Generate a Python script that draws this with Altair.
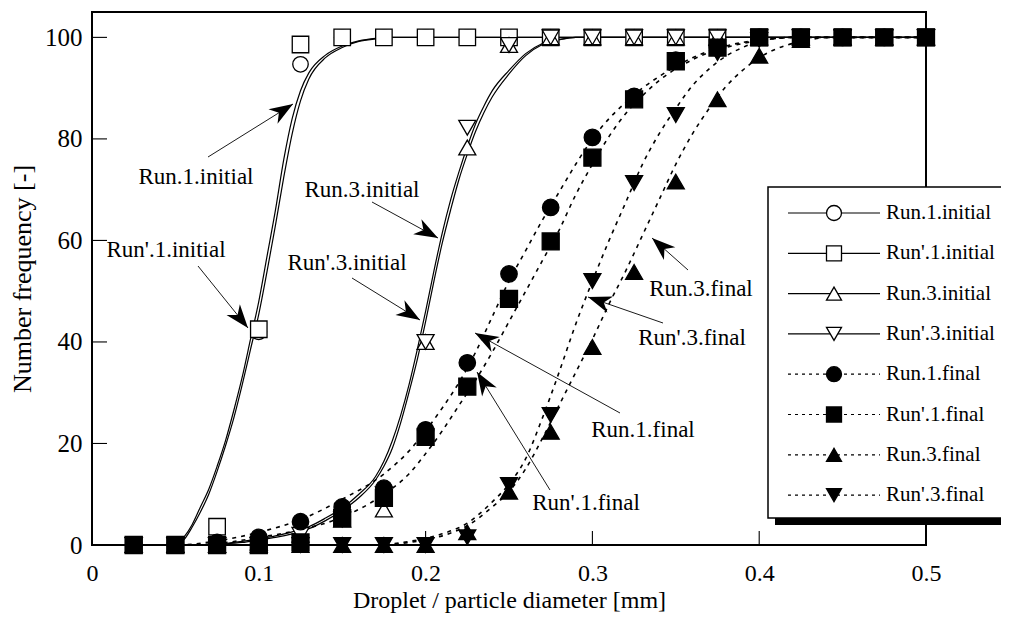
import math
import altair as alt
import pandas as pd

# ---------------- data ----------------
X_MARK = [0.025, 0.05, 0.075, 0.1, 0.125, 0.15, 0.175, 0.2, 0.225, 0.25,
          0.275, 0.3, 0.325, 0.35, 0.375, 0.4, 0.425, 0.45, 0.475, 0.5]

RUN1_INIT = [0, 0, 0.5, 42, 94.7, 100, 100, 100, 100, 100, 100, 100, 100, 100, 100, 100, 100, 100, 100, 100]
RUN1P_INIT = [0, 0, 3.6, 42.5, 98.6, 100, 100, 100, 100, 100, 100, 100, 100, 100, 100, 100, 100, 100, 100, 100]
RUN3_INIT = [0, 0, 0, 0.5, 2, 5, 7, 40, 78.3, 98.5, 100, 100, 100, 100, 100, 100, 100, 100, 100, 100]
RUN3P_INIT = [0, 0, 0, 0, 2, 5, 10, 40, 82.2, 98.5, 100, 100, 100, 100, 100, 100, 100, 100, 100, 100]
RUN1_FINAL = [0, 0, 0.5, 1.5, 4.6, 7.5, 11.2, 22.7, 35.9, 53.4, 66.5, 80.3, 88.4, 95.5, 98, 100, 100, 100, 100, 100]
RUN1P_FINAL = [0, 0, 0, 0, 0.5, 5.3, 9.3, 21.3, 31.2, 48.5, 59.8, 76.3, 87.8, 95.3, 98, 100, 100, 100, 100, 100]
RUN3_FINAL = [0, 0, 0, 0, 0, 0, 0, 0, 2.5, 10.5, 22.3, 39, 53.8, 71.6, 87.8, 96.4, 99.5, 100, 100, 100]
RUN3P_FINAL = [0, 0, 0, 0, 0, 0, 0, 0, 1.5, 11.8, 25.6, 52, 71.3, 84.7, 96.9, 99.5, 100, 100, 100, 100]

SERIES = ["Run.1.initial", "Run'.1.initial", "Run.3.initial", "Run'.3.initial",
          "Run.1.final", "Run'.1.final", "Run.3.final", "Run'.3.final"]

# fitted curves
CI1_X = [0.025, 0.05, 0.055, 0.06, 0.065, 0.07, 0.075, 0.08, 0.085, 0.09, 0.095, 0.1,
         0.105, 0.11, 0.115, 0.12, 0.125, 0.13, 0.14, 0.15, 0.16, 0.17, 0.18, 0.5]
CI1_RUN1 = [0, 0, 1.5, 4, 7.5, 11, 15.5, 20.5, 26.5, 33, 40.5, 48,
            57, 66, 76, 84, 89.5, 93, 96.5, 98.3, 99.3, 99.8, 100, 100]
CI1_RUN1P = [0, 0, 1, 3.5, 6.5, 10, 14.5, 19.5, 25, 31.5, 38.5, 45.5,
             54, 63, 72.5, 81, 87.5, 91.8, 96, 98, 99.2, 99.7, 100, 100]

CI3_X = [0.025, 0.07, 0.08, 0.09, 0.1, 0.11, 0.12, 0.13, 0.14, 0.15, 0.16, 0.17, 0.175,
         0.18, 0.185, 0.19, 0.195, 0.2, 0.205, 0.21, 0.215, 0.22, 0.225, 0.23, 0.235,
         0.24, 0.25, 0.26, 0.27, 0.28, 0.29, 0.5]
CI3_RUN3 = [0, 0, 0.3, 0.7, 1.2, 1.8, 2.6, 3.6, 5.3, 7.3, 10, 13.5, 16.5,
            20.5, 25.5, 31.5, 38.5, 46, 54, 61.5, 68, 73.5, 78.5, 83, 86.5,
            89.5, 93.5, 96.8, 98.8, 99.6, 100, 100]
CI3_RUN3P = [0, 0, 0.2, 0.5, 1, 1.5, 2.2, 3.2, 4.8, 6.8, 9.3, 12.8, 15.5,
             19, 24, 30, 36.5, 44, 52, 59.5, 66, 72, 77, 81.5, 85.2,
             88.3, 92.8, 96.4, 98.6, 99.5, 100, 100]

CF1_X = [0.025, 0.05, 0.075, 0.1, 0.125, 0.15, 0.175, 0.19, 0.2, 0.21, 0.22, 0.23, 0.24,
         0.25, 0.26, 0.27, 0.28, 0.29, 0.3, 0.31, 0.32, 0.33, 0.34, 0.35, 0.36, 0.37,
         0.38, 0.39, 0.4, 0.41, 0.42, 0.5]
CF1_RUN1 = [0, 0, 0.8, 2.5, 5, 9, 14, 18.5, 22.5, 27, 32, 38, 45,
            52, 58, 64, 69.5, 75, 80, 84, 87.2, 90, 92.3, 94.3, 96, 97.3,
            98.3, 99, 99.5, 99.8, 100, 100]
CF1_RUN1P = [0, 0, 0.3, 1.5, 3, 5.5, 10, 14, 18, 22.5, 27.5, 32.5, 38,
             44, 50, 56, 62, 69, 75, 80.5, 85, 88.5, 91.5, 93.8, 95.6, 97,
             98, 98.8, 99.4, 99.8, 100, 100]

CF3_X = [0.025, 0.17, 0.19, 0.21, 0.225, 0.24, 0.25, 0.26, 0.27, 0.28, 0.29, 0.3, 0.31,
         0.32, 0.33, 0.34, 0.35, 0.36, 0.37, 0.38, 0.39, 0.4, 0.41, 0.42, 0.43, 0.44, 0.5]
CF3_RUN3 = [0, 0, 0.5, 1.8, 3.8, 7.5, 10.5, 15, 21, 27.5, 34, 40.5, 47.5,
            54, 61, 68, 75, 81, 86, 90.3, 93.5, 96, 97.7, 98.8, 99.5, 100, 100]
CF3_RUN3P = [0, 0, 0.7, 2.2, 4.3, 8.5, 12, 17, 25, 34, 43.5, 52, 60,
             67.5, 75, 81, 86, 90.5, 93.8, 96.3, 98, 99.2, 99.8, 100, 100, 100, 100]

X_TICKS = [0, 0.1, 0.2, 0.3, 0.4, 0.5]
Y_TICKS = [0, 20, 40, 60, 80, 100]

# annotation label, label centre, arrow start, arrow tip  (page pixels)
ANNOTATIONS = [
    ("Run.1.initial", (196, 177), (208, 157), (293, 104)),
    ("Run'.1.initial", (166, 250), (198, 266), (248, 328)),
    ("Run.3.initial", (362, 190), (372, 202), (438, 238)),
    ("Run'.3.initial", (347, 263), (352, 278), (420, 320)),
    ("Run.1.final", (643, 430), (620, 413), (475, 333)),
    ("Run'.1.final", (586, 503), (550, 490), (477, 372)),
    ("Run'.3.final", (692, 338), (663, 323), (588, 297)),
    ("Run.3.final", (701, 289), (688, 270), (652, 238)),
]

# ---------------- layout ----------------
FONT = "Liberation Serif"
W, H = 834, 533
LEFT, TOP = 92, 12
XMAX, YMAX = 0.5, 105.0


def to_x(px):
    return (px - LEFT) / W * XMAX


def to_y(py):
    return (TOP + H - py) / H * YMAX


xs = alt.Scale(domain=[0, XMAX], nice=False, zero=False)
ys = alt.Scale(domain=[0, YMAX], nice=False, zero=False)

xaxis = alt.Axis(values=X_TICKS, labelExpr="datum.value == 0 ? '0' : format(datum.value, '.1f')",
                 ticks=False, tickSize=0, domain=False, grid=False, labelFlush=False,
                 labelOverlap=False, labelFont=FONT, labelFontSize=24, labelColor="black",
                 labelBaseline="alphabetic", labelPadding=35,
                 title="Droplet / particle diameter [mm]", titleFont=FONT, titleFontSize=24,
                 titleFontWeight="normal", titleColor="black", titleBaseline="alphabetic",
                 titleY=62)
yaxis = alt.Axis(values=Y_TICKS, ticks=False, tickSize=0, domain=False, grid=False,
                 labelFlush=False, labelOverlap=False, labelFont=FONT, labelFontSize=25,
                 labelColor="black", labelBaseline="middle", labelPadding=10,
                 title="Number frequency [-]", titleFont=FONT, titleFontSize=26,
                 titleFontWeight="normal", titleColor="black", titleBaseline="alphabetic",
                 titleAngle=270, titleX=-62, titleY=H / 2)

X = alt.X("x:Q", scale=xs, axis=xaxis)
Y = alt.Y("y:Q", scale=ys, axis=yaxis)
X2 = alt.X2("x2:Q")
Y2 = alt.Y2("y2:Q")

layers = []

# frame
frame_df = pd.DataFrame({"x": [0.0], "y": [0.0], "x2": [XMAX], "y2": [YMAX]})
layers.append(alt.Chart(frame_df).mark_rect(fillOpacity=0, stroke="black", strokeWidth=2)
              .encode(x=X, y=Y, x2=X2, y2=Y2))

# inward ticks
layers.append(alt.Chart(pd.DataFrame({"x": X_TICKS})).mark_rule(color="black", strokeWidth=1.1)
              .encode(x=X, y=alt.value(H), y2=alt.value(H - 14)))
layers.append(alt.Chart(pd.DataFrame({"y": Y_TICKS})).mark_rule(color="black", strokeWidth=1.1)
              .encode(y=Y, x=alt.value(0), x2=alt.value(15)))

# curves
curves = [
    (CI1_X, CI1_RUN1, False), (CI1_X, CI1_RUN1P, False),
    (CI3_X, CI3_RUN3, False), (CI3_X, CI3_RUN3P, False),
    (CF1_X, CF1_RUN1, True), (CF1_X, CF1_RUN1P, True),
    (CF3_X, CF3_RUN3, True), (CF3_X, CF3_RUN3P, True),
]
for cx, cy, dashed in curves:
    kw = dict(interpolate="monotone", color="black")
    if dashed:
        kw.update(strokeDash=[4, 5], strokeWidth=1.6)
    else:
        kw.update(strokeWidth=1.2)
    layers.append(alt.Chart(pd.DataFrame({"x": cx, "y": cy})).mark_line(**kw).encode(x=X, y=Y))

# markers
STYLE = {
    "Run.1.initial": ("circle", "white", 240),
    "Run'.1.initial": ("square", "white", 272),
    "Run.3.initial": ("triangle-up", "white", 289),
    "Run'.3.initial": ("triangle-down", "white", 289),
    "Run.1.final": ("circle", "black", 270),
    "Run'.1.final": ("square", "black", 289),
    "Run.3.final": ("triangle-up", "black", 289),
    "Run'.3.final": ("triangle-down", "black", 289),
}
VALUES = {
    "Run.1.initial": RUN1_INIT, "Run'.1.initial": RUN1P_INIT,
    "Run.3.initial": RUN3_INIT, "Run'.3.initial": RUN3P_INIT,
    "Run.1.final": RUN1_FINAL, "Run'.1.final": RUN1P_FINAL,
    "Run.3.final": RUN3_FINAL, "Run'.3.final": RUN3P_FINAL,
}
draw_order = ["Run.1.initial", "Run'.1.initial", "Run.3.initial", "Run'.3.initial",
              "Run.1.final", "Run'.1.final", "Run.3.final", "Run'.3.final"]
for name in draw_order:
    shp, fc, sz = STYLE[name]
    df = pd.DataFrame({"x": X_MARK, "y": VALUES[name]})
    layers.append(alt.Chart(df).mark_point(shape=shp, filled=True, fill=fc, stroke="black",
                                           strokeWidth=1.3, size=sz, opacity=1)
                  .encode(x=X, y=Y))

# annotations
ARROW = "M0,0L-2.2,-0.8L-1.55,0L-2.2,0.8Z"
rule_rows, head_rows, text_rows = [], [], []
for label, (tx, ty), (sx, sy), (ex, ey) in ANNOTATIONS:
    rule_rows.append({"x": to_x(sx), "y": to_y(sy), "x2": to_x(ex), "y2": to_y(ey)})
    ang = math.degrees(math.atan2(ey - sy, ex - sx)) % 360
    head_rows.append({"x": to_x(ex), "y": to_y(ey), "ang": ang})
    text_rows.append({"x": to_x(tx), "y": to_y(ty), "label": label})
layers.append(alt.Chart(pd.DataFrame(rule_rows)).mark_rule(color="black", strokeWidth=0.9)
              .encode(x=X, y=Y, x2=X2, y2=Y2))
layers.append(alt.Chart(pd.DataFrame(head_rows)).mark_point(shape=ARROW, filled=True, fill="black",
                                                           strokeWidth=0, size=460, opacity=1)
              .encode(x=X, y=Y, angle=alt.Angle("ang:Q", scale=None)))
layers.append(alt.Chart(pd.DataFrame(text_rows)).mark_text(font=FONT, fontSize=23, color="black",
                                                          align="center", baseline="middle")
              .encode(x=X, y=Y, text="label:N"))

# legend (drawn by hand)
BOX_L, BOX_T, BOX_B, BOX_R = 768, 187, 518, 1060
SH = 7
box_df = pd.DataFrame({"x": [to_x(BOX_L + SH)], "x2": [to_x(BOX_R + SH)],
                       "y": [to_y(BOX_T + SH)], "y2": [to_y(BOX_B + SH)]})
layers.append(alt.Chart(box_df).mark_rect(fill="black").encode(x=X, y=Y, x2=X2, y2=Y2))
box_df2 = pd.DataFrame({"x": [to_x(BOX_L)], "x2": [to_x(BOX_R)],
                        "y": [to_y(BOX_T)], "y2": [to_y(BOX_B)]})
layers.append(alt.Chart(box_df2).mark_rect(fill="white", stroke="black", strokeWidth=1.5)
              .encode(x=X, y=Y, x2=X2, y2=Y2))

ROW0, ROWSTEP = 213, 40.3
solid_rows, dash_rows, mk_rows, lab_rows = [], [], [], []
for i, name in enumerate(SERIES):
    py = ROW0 + i * ROWSTEP
    row = {"x": to_x(788), "x2": to_x(880), "y": to_y(py), "y2": to_y(py)}
    (dash_rows if "final" in name else solid_rows).append(row)
    shp, fc, _ = STYLE[name]
    mk_rows.append({"x": to_x(834), "y": to_y(py), "shp": shp, "fc": fc})
    lab_rows.append({"x": to_x(886), "y": to_y(py), "label": name})
layers.append(alt.Chart(pd.DataFrame(solid_rows)).mark_rule(color="black", strokeWidth=1.2)
              .encode(x=X, y=Y, x2=X2, y2=Y2))
layers.append(alt.Chart(pd.DataFrame(dash_rows)).mark_rule(color="black", strokeWidth=1.2,
                                                          strokeDash=[3, 4])
              .encode(x=X, y=Y, x2=X2, y2=Y2))
layers.append(alt.Chart(pd.DataFrame(mk_rows)).mark_point(filled=True, stroke="black",
                                                         strokeWidth=1.3, size=225, opacity=1)
              .encode(x=X, y=Y, shape=alt.Shape("shp:N", scale=None),
                      fill=alt.Fill("fc:N", scale=None)))
layers.append(alt.Chart(pd.DataFrame(lab_rows)).mark_text(font=FONT, fontSize=21, color="black",
                                                         align="left", baseline="middle")
              .encode(x=X, y=Y, text="label:N"))

chart = (alt.layer(*layers)
         .properties(width=W, height=H,
                     padding={"left": 84, "top": 4, "right": 75, "bottom": 69},
                     autosize=alt.AutoSizeParams(type="none"))
         .configure_view(stroke="transparent"))

chart.save("out.html", embed_options={"renderer": "svg", "actions": False})
